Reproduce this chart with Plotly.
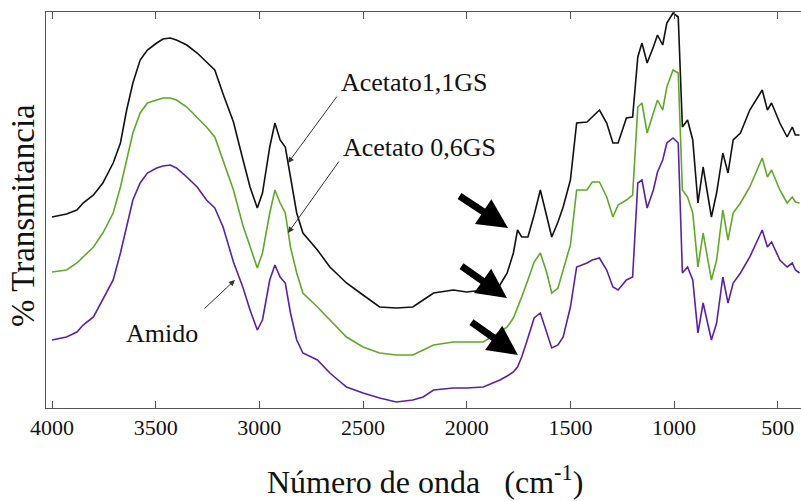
import plotly.graph_objects as go

# Wavenumbers (cm-1)
wavenumber = [4000, 3930, 3880, 3850, 3800, 3755, 3705, 3670, 3640, 3610,
              3575, 3540, 3495, 3465, 3430, 3400, 3350, 3300, 3255, 3215,
              3175, 3125, 3080, 3045, 3010, 2985, 2950, 2925, 2900, 2875,
              2850, 2820, 2790, 2720, 2660, 2580, 2500, 2420, 2340, 2260,
              2210, 2160, 2065, 2000, 1920, 1840, 1805, 1775, 1755, 1735,
              1705, 1675, 1645, 1615, 1590, 1560, 1535, 1500, 1470, 1420,
              1395, 1360, 1325, 1295, 1270, 1230, 1200, 1175, 1155, 1130,
              1100, 1080, 1055, 1035, 1005, 980, 960, 935, 910, 885,
              860, 820, 795, 765, 740, 715, 680, 635, 575, 550,
              530, 490, 455, 430, 415, 395]

# Transmittance (arbitrary units, offset curves)
acetato_11 = [191, 194, 198, 205, 213, 225, 245, 265, 298, 325,
              348, 358, 365, 369, 370, 368, 363, 355, 346, 338,
              314, 286, 249, 221, 200, 215, 261, 285, 268, 261,
              231, 195, 175, 158, 141, 125, 113, 101, 100, 101,
              108, 115, 118, 116, 118, 123, 135, 155, 178, 171,
              171, 193, 218, 193, 171, 186, 201, 228, 285, 286,
              291, 298, 285, 265, 265, 290, 291, 351, 365, 345,
              361, 373, 363, 385, 395, 391, 281, 288, 268, 205,
              241, 191, 215, 255, 235, 268, 275, 298, 318, 298,
              305, 285, 271, 281, 273, 273]

acetato_06 = [136, 138, 145, 151, 161, 175, 195, 221, 248, 275,
              295, 305, 308, 310, 310, 308, 301, 291, 281, 271,
              248, 218, 183, 161, 140, 155, 195, 218, 205, 195,
              161, 135, 115, 101, 88, 71, 61, 55, 53, 53,
              58, 63, 66, 66, 66, 76, 81, 90, 100, 111,
              128, 146, 155, 136, 115, 120, 138, 163, 218, 218,
              226, 226, 211, 191, 203, 208, 213, 301, 305, 275,
              295, 308, 298, 321, 338, 335, 218, 211, 195, 141,
              175, 128, 148, 198, 168, 195, 205, 221, 250, 231,
              238, 218, 205, 211, 206, 205]

amido = [68, 71, 76, 83, 91, 108, 128, 155, 181, 208,
         225, 235, 240, 242, 243, 240, 231, 221, 208, 200,
         181, 146, 121, 98, 78, 88, 128, 143, 131, 125,
         95, 68, 55, 48, 35, 21, 15, 10, 6, 8,
         11, 18, 20, 20, 21, 28, 32, 36, 41, 51,
         70, 90, 95, 76, 60, 63, 71, 101, 141, 145,
         148, 150, 138, 121, 118, 128, 131, 225, 228, 200,
         218, 236, 248, 265, 270, 265, 135, 141, 128, 75,
         105, 68, 85, 131, 105, 125, 135, 151, 178, 161,
         166, 148, 141, 145, 138, 135]

xticks = [4000, 3500, 3000, 2500, 2000, 1500, 1000, 500]

FONT = "Liberation Serif"

fig = go.Figure()
for vals, col in [(acetato_11, "#111111"), (acetato_06, "#62a82a"), (amido, "#5a22a2")]:
    fig.add_trace(go.Scatter(x=wavenumber, y=vals, mode="lines",
                             line=dict(color=col, width=1.6, shape="linear"),
                             showlegend=False, hoverinfo="skip"))

annotations = []
# thick black arrows
for (x, y, ax, ay) in [(1801, 180, -50, -33), (1806, 110, -47, -33), (1753, 53, -48, -34)]:
    annotations.append(dict(x=x, y=y, ax=ax, ay=ay, xref="x", yref="y", text="",
                            showarrow=True, arrowhead=2, arrowsize=0.85, arrowwidth=7,
                            arrowcolor="#000000"))
# thin label arrows
for (x, y, ax, ay) in [(2862, 245, 50, -68), (2862, 175, 52, -73), (3118, 128, -32, 30)]:
    annotations.append(dict(x=x, y=y, ax=ax, ay=ay, xref="x", yref="y", text="",
                            showarrow=True, arrowhead=2, arrowsize=1.2, arrowwidth=1,
                            arrowcolor="#333333"))
# labels
for (x, y, t) in [(2250, 326, "Acetato1,1GS"), (2230, 261, "Acetato 0,6GS"), (3470, 75, "Amido")]:
    annotations.append(dict(x=x, y=y, xref="x", yref="y", text=t, showarrow=False,
                            font=dict(family=FONT, size=26, color="#111111")))
# axis titles
annotations.append(dict(x=(425 - 46) / 755, y=-(480 - 408) / 396, xref="paper", yref="paper",
                        text="Número de onda&nbsp;&nbsp;&nbsp;(cm<sup>-1</sup>)", showarrow=False,
                        xanchor="center", yanchor="middle",
                        font=dict(family=FONT, size=32, color="#111111")))
annotations.append(dict(x=(23 - 46) / 755, y=(408 - 216) / 396, xref="paper", yref="paper",
                        text="% Transmitancia", showarrow=False, textangle=-90,
                        xanchor="center", yanchor="middle",
                        font=dict(family=FONT, size=33, color="#111111")))

fig.update_layout(
    width=801, height=501,
    margin=dict(l=46, r=0, t=12, b=93),
    paper_bgcolor="white", plot_bgcolor="white",
    annotations=annotations,
    font=dict(family=FONT),
    xaxis=dict(range=[4029, 388], tickvals=xticks, ticktext=[str(v) for v in xticks],
               ticks="inside", ticklen=7, tickcolor="#555555", showline=True,
               linecolor="#555555", linewidth=1, mirror="ticks", showgrid=False,
               zeroline=False, tickfont=dict(family=FONT, size=22, color="#111111")),
    yaxis=dict(range=[0, 396], showticklabels=False, ticks="", showline=True,
               linecolor="#555555", linewidth=1, showgrid=False, zeroline=False),
)

fig.write_html("out.html")
